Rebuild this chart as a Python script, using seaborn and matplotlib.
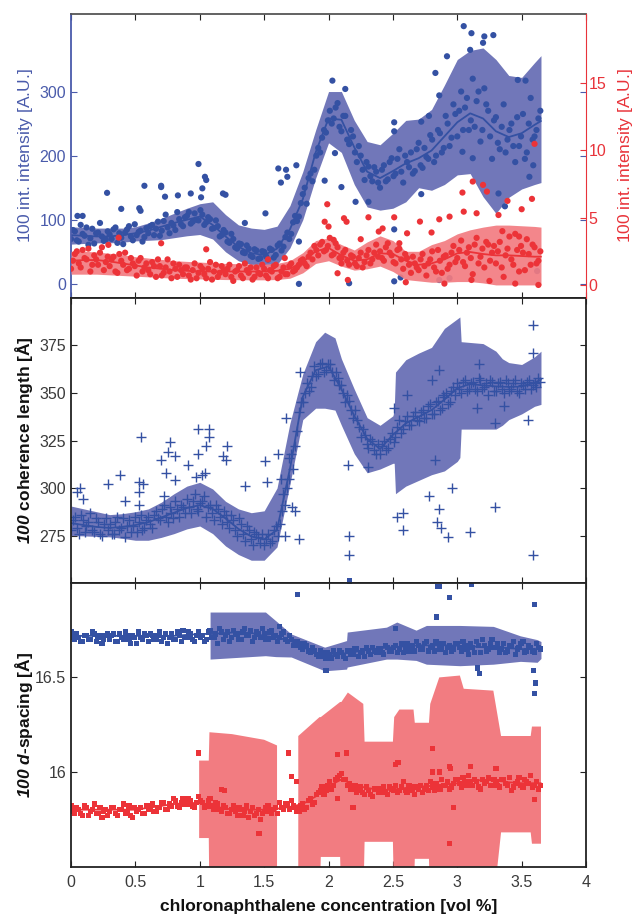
import numpy as np
import matplotlib
matplotlib.use('Agg')
import matplotlib.pyplot as plt
import seaborn as sns

# ---------------- data ----------------
# concentration grids of the dense series [vol %] (two interleaved scans)
conc = [0.00, 0.03, 0.06, 0.09, 0.12, 0.15, 0.18, 0.21, 0.24, 0.27,
        0.30, 0.33, 0.36, 0.39, 0.42, 0.45, 0.48, 0.51, 0.54, 0.57,
        0.60, 0.63, 0.66, 0.69, 0.72, 0.75, 0.78, 0.81, 0.84, 0.87,
        0.90, 0.93, 0.96, 0.99, 1.02, 1.05, 1.08, 1.11, 1.14, 1.17,
        1.20, 1.23, 1.26, 1.29, 1.32, 1.35, 1.38, 1.41, 1.44, 1.47,
        1.50, 1.53, 1.56, 1.59, 1.62, 1.65, 1.68, 1.71, 1.74, 1.77,
        1.80, 1.83, 1.86, 1.89, 1.92, 1.95, 1.98, 2.01, 2.04, 2.07,
        2.10, 2.13, 2.16, 2.19, 2.22, 2.25, 2.28, 2.31, 2.34, 2.37,
        2.40, 2.43, 2.46, 2.49, 2.52, 2.55, 2.58, 2.61, 2.64, 2.67,
        2.70, 2.73, 2.76, 2.79, 2.82, 2.85, 2.88, 2.91, 2.94, 2.97,
        3.00, 3.03, 3.06, 3.09, 3.12, 3.15, 3.18, 3.21, 3.24, 3.27,
        3.30, 3.33, 3.36, 3.39, 3.42, 3.45, 3.48, 3.51, 3.54, 3.57,
        3.60, 3.63]
conc_b = [0.015, 0.045, 0.075, 0.105, 0.135, 0.165, 0.195, 0.225, 0.255, 0.285,
          0.315, 0.345, 0.375, 0.405, 0.435, 0.465, 0.495, 0.525, 0.555, 0.585,
          0.615, 0.645, 0.675, 0.705, 0.735, 0.765, 0.795, 0.825, 0.855, 0.885,
          0.915, 0.945, 0.975, 1.005, 1.035, 1.065, 1.095, 1.125, 1.155, 1.185,
          1.215, 1.245, 1.275, 1.305, 1.335, 1.365, 1.395, 1.425, 1.455, 1.485,
          1.515, 1.545, 1.575, 1.605, 1.635, 1.665, 1.695, 1.725, 1.755, 1.785,
          1.815, 1.845, 1.875, 1.905, 1.935, 1.965, 1.995, 2.025, 2.055, 2.085,
          2.115, 2.145, 2.175, 2.205, 2.235, 2.265, 2.295, 2.325, 2.355, 2.385,
          2.415, 2.445, 2.475, 2.505, 2.535, 2.565, 2.595, 2.625, 2.655, 2.685,
          2.715, 2.745, 2.775, 2.805, 2.835, 2.865, 2.895, 2.925, 2.955, 2.985,
          3.015, 3.045, 3.075, 3.105, 3.135, 3.165, 3.195, 3.225, 3.255, 3.285,
          3.315, 3.345, 3.375, 3.405, 3.435, 3.465, 3.495, 3.525, 3.555, 3.585,
          3.615, 3.645]

# knots of the fitted curves / confidence bands
knots = [0.0, 0.1, 0.2, 0.3, 0.4, 0.5, 0.6, 0.7, 0.8, 0.9,
         1.0, 1.1, 1.2, 1.3, 1.4, 1.5, 1.6, 1.7, 1.8, 1.9,
         2.0, 2.1, 2.2, 2.3, 2.4, 2.5, 2.6, 2.7, 2.8, 2.9,
         3.0, 3.1, 3.2, 3.3, 3.4, 3.5, 3.6, 3.65]

# panel 1 - 100 intensity, blue (left axis)
int_blue = [70, 82, 66, 78, 88, 71, 63, 80, 74, 69,
            77, 85, 64, 72, 80, 90, 68, 76, 83, 73,
            79, 92, 86, 75, 98, 88, 95, 84, 101, 90,
            106, 94, 110, 99, 108, 96, 101, 87, 90, 76,
            80, 64, 70, 55, 62, 48, 55, 42, 52, 40,
            50, 38, 53, 45, 63, 58, 80, 78, 106, 105,
            140, 125, 172, 178, 212, 228, 236, 270, 258, 282,
            238, 262, 218, 230, 190, 200, 162, 183, 160, 175,
            150, 185, 163, 196, 172, 210, 158, 190, 205, 176,
            220, 181, 198, 232, 190, 240, 205, 262, 215, 280,
            230, 300, 275, 240, 320, 285, 222, 305, 270, 195,
            260, 210, 280, 225, 250, 190, 215, 265, 205, 290,
            230, 258]
int_blue_b = [84, 68, 92, 75, 61, 86, 79, 95, 67, 82,
              70, 88, 79, 62, 85, 74, 93, 81, 66, 87,
              90, 76, 97, 83, 108, 79, 91, 112, 93, 104,
              112, 97, 100, 115, 92, 104, 86, 99, 74, 84,
              66, 78, 57, 63, 49, 60, 44, 54, 39, 51,
              43, 55, 41, 60, 52, 73, 70, 96, 98, 126,
              150, 165, 160, 200, 205, 240, 255, 250, 275, 245,
              262, 225, 240, 205, 215, 178, 190, 168, 182, 158,
              178, 160, 190, 168, 195, 175, 200, 182, 172, 210,
              185, 212, 195, 225, 200, 235, 212, 250, 228, 265,
              270, 240, 290, 255, 245, 300, 240, 280, 230, 255,
              220, 245, 205, 240, 215, 260, 230, 195, 250, 225,
              240, 270]
int_blue_out_x = [0.05, 0.09, 0.28, 0.39, 0.53, 0.54, 0.57, 0.70, 0.70, 0.73, 0.83, 0.93,
                  0.99, 1.01, 1.02, 1.04, 1.05, 1.18, 1.20, 1.35, 1.51, 1.61, 1.63, 1.67,
                  1.68, 1.75, 1.77, 1.97, 2.03, 2.05, 2.10, 2.13, 2.21, 2.31, 2.51, 2.51,
                  2.72, 2.72, 2.78, 2.83, 2.86, 2.92, 3.04, 3.05, 3.10, 3.11, 3.12, 3.20,
                  3.21, 3.28, 3.32, 3.37, 3.47, 3.53, 3.56, 3.59, 1.77, 2.16, 2.51, 2.56,
                  2.86, 2.94, 2.51, 3.62]
int_blue_out_y = [106, 106, 142, 117, 118, 114, 153, 153, 151, 136, 138, 141,
                  187, 135, 149, 167, 162, 141, 139, 95, 110, 180, 158, 178,
                  167, 185, 66, 161, 317, 204, 151, 304, 128, 128, 252, 238,
                  253, 140, 262, 329, 294, 355, 206, 402, 365, 391, 196, 376,
                  386, 388, 141, 121, 318, 317, 167, 185, 0, 1, 4, 10,
                  6, 9, 85, 20]
int_blue_fit = [76, 75, 74, 74, 76, 79, 83, 89, 95, 100,
                105, 92, 74, 58, 48, 45, 55, 85, 132, 205,
                258, 256, 213, 175, 165, 176, 188, 196, 208, 230,
                252, 266, 258, 238, 229, 235, 248, 254]
int_blue_hi = [89, 88, 87, 87, 87, 89, 95, 102, 110, 118,
               125, 128, 108, 92, 87, 85, 90, 122, 175, 240,
               300, 300, 255, 222, 217, 235, 255, 257, 272, 310,
               350, 364, 368, 350, 325, 322, 345, 356]
int_blue_lo = [62, 63, 64, 64, 65, 67, 68, 69, 72, 75,
               77, 70, 50, 36, 30, 26, 30, 56, 100, 165,
               220, 205, 155, 120, 115, 118, 128, 150, 146, 155,
               170, 172, 136, 110, 135, 148, 155, 158]

# panel 1 - 100 intensity, red (right axis)
int_red = [1.2, 2.3, 1.6, 2.6, 1.9, 1.0, 2.2, 1.5, 2.8, 1.7,
           1.4, 2.1, 0.9, 1.8, 2.4, 1.2, 1.6, 0.7, 2.0, 1.3,
           1.1, 1.7, 0.6, 1.4, 0.9, 1.9, 0.5, 1.2, 1.5, 0.8,
           1.3, 0.4, 1.6, 0.9, 1.2, 0.5, 1.7, 1.0, 0.6, 1.4,
           0.8, 1.5, 0.3, 1.1, 0.7, 1.6, 0.9, 0.4, 1.3, 0.8,
           1.2, 0.5, 1.0, 1.5, 0.6, 1.3, 0.8, 1.6, 1.1, 1.5,
           1.9, 1.4, 2.4, 2.9, 2.2, 3.2, 2.6, 3.5, 2.3, 2.8,
           2.0, 2.6, 1.5, 2.1, 1.4, 2.4, 1.7, 2.6, 1.9, 3.0,
           2.5, 1.8, 3.1, 2.2, 1.6, 2.7, 1.2, 2.0, 0.9, 1.6,
           1.1, 2.3, 0.7, 1.9, 1.3, 2.6, 0.9, 2.2, 1.5, 2.9,
           2.0, 3.3, 1.4, 2.8, 0.8, 3.5, 2.1, 1.3, 3.0, 2.4,
           1.6, 3.2, 0.6, 2.7, 1.9, 3.8, 1.0, 2.4, 3.4, 1.5,
           2.8, 1.8]
int_red_b = [1.8, 2.5, 1.3, 2.0, 2.7, 1.5, 1.9, 2.4, 1.1, 2.1,
             1.9, 1.0, 2.3, 1.5, 1.1, 2.0, 1.4, 1.8, 1.0, 1.6,
             0.8, 1.4, 1.9, 0.7, 1.3, 1.0, 1.6, 0.6, 1.1, 1.3,
             0.7, 1.1, 0.5, 1.4, 0.8, 1.2, 0.4, 1.5, 0.9, 1.1,
             1.2, 0.6, 1.0, 1.4, 0.5, 1.1, 1.3, 0.6, 0.9, 1.5,
             0.7, 1.1, 1.4, 0.5, 1.0, 0.8, 1.4, 1.0, 1.3, 1.8,
             1.6, 2.1, 1.9, 2.6, 3.0, 2.5, 2.9, 2.2, 3.1, 2.0,
             2.4, 1.8, 2.2, 1.6, 2.0, 1.3, 2.2, 1.6, 2.4, 2.1,
             2.0, 2.8, 2.4, 1.7, 2.6, 1.9, 2.3, 1.5, 2.1, 1.3,
             1.9, 1.4, 1.6, 2.5, 1.0, 1.8, 2.1, 1.2, 2.4, 1.7,
             2.6, 1.7, 2.4, 2.0, 3.0, 1.6, 2.7, 3.2, 1.8, 2.9,
             2.5, 1.3, 2.2, 3.6, 1.5, 2.6, 2.9, 1.1, 2.3, 3.0,
             1.6, 2.5]
int_red_out_x = [0.29, 0.37, 0.70, 1.05, 1.53, 1.66, 1.97, 1.99, 2.00, 2.04, 2.07, 2.10,
                 2.12, 2.14, 2.15, 2.31, 2.39, 2.42, 2.51, 2.61, 2.71, 2.86, 2.94, 3.04,
                 3.05, 3.11, 3.12, 3.15, 3.20, 3.23, 3.32, 3.39, 3.50, 3.58, 3.60, 2.60,
                 2.90, 3.25, 3.45, 3.63, 2.80, 3.35, 3.48, 2.25, 2.55]
int_red_out_y = [2.98, 3.52, 3.1, 2.65, 1.9, 2.0, 4.7, 6.0, 4.34, 3.35, 0.87, 1.6,
                 4.96, 4.7, 0.37, 5.03, 3.97, 4.2, 5.03, 3.84, 4.71, 4.88, 5.08, 6.87,
                 5.45, 0.37, 7.69, 5.33, 7.44, 6.94, 5.2, 6.25, 5.63, 6.4, 10.49, 0.2,
                 0.1, 0.3, 0.1, 0.0, 3.9, 4.0, 3.6, 3.4, 3.1]
int_red_fit = [1.8, 1.85, 1.85, 1.75, 1.6, 1.45, 1.3, 1.2, 1.1, 1.05,
               1.0, 1.0, 1.0, 1.0, 1.0, 1.0, 1.05, 1.2, 1.7, 2.5,
               2.75, 2.2, 1.8, 1.9, 2.35, 2.3, 1.8, 1.5, 1.6, 1.9,
               2.35, 2.45, 2.3, 2.2, 2.2, 2.15, 2.1, 2.1]
int_red_hi = [2.5, 2.5, 2.45, 2.35, 2.25, 2.1, 2.0, 1.9, 1.8, 1.75,
              1.7, 1.65, 1.6, 1.58, 1.55, 1.55, 1.6, 1.8, 2.4, 3.3,
              3.5, 3.0, 2.6, 3.2, 3.65, 3.3, 2.5, 2.5, 3.0, 3.3,
              3.8, 4.1, 4.3, 4.45, 4.45, 4.4, 4.35, 4.3]
int_red_lo = [0.8, 0.8, 0.8, 0.75, 0.7, 0.65, 0.6, 0.55, 0.5, 0.47,
              0.45, 0.42, 0.4, 0.39, 0.38, 0.38, 0.4, 0.5, 0.9, 1.6,
              1.8, 1.4, 1.1, 1.2, 1.4, 1.0, 0.4, 0.3, 0.2, 0.2,
              0.25, 0.25, 0.15, 0.0, 0.0, 0.0, 0.0, 0.0]

# panel 2 - 100 coherence length [A]
coh = [278, 285, 276, 283, 280, 287, 277, 282, 275, 284,
       281, 276, 285, 279, 274, 283, 280, 277, 286, 279,
       285, 279, 288, 283, 291, 282, 287, 293, 285, 290,
       294, 287, 297, 288, 293, 285, 291, 283, 289, 281,
       286, 279, 283, 275, 281, 272, 278, 270, 276, 271,
       270, 276, 272, 280, 281, 297, 300, 318, 322, 340,
       345, 355, 353, 364, 360, 366, 362, 365, 357, 358,
       354, 345, 346, 337, 336, 327, 328, 321, 325, 318,
       318, 325, 321, 329, 327, 336, 331, 338, 333, 340,
       335, 341, 337, 344, 339, 346, 342, 350, 345, 353,
       355, 350, 357, 352, 356, 351, 357, 353, 349, 356,
       351, 356, 350, 355, 352, 357, 350, 354, 356, 352,
       355, 358]
coh_b = [283, 279, 286, 277, 282, 278, 284, 276, 281, 278,
         276, 282, 278, 284, 280, 277, 285, 282, 278, 283,
         281, 286, 284, 289, 285, 290, 284, 289, 291, 287,
         290, 293, 289, 292, 296, 290, 287, 291, 285, 288,
         282, 286, 278, 284, 276, 280, 273, 277, 274, 276,
         273, 271, 278, 275, 288, 291, 305, 310, 330, 345,
         350, 351, 359, 359, 365, 361, 365, 361, 361, 354,
         350, 349, 341, 341, 332, 331, 323, 326, 320, 323,
         322, 320, 326, 324, 332, 329, 335, 333, 338, 336,
         340, 337, 343, 339, 345, 341, 348, 344, 351, 349,
         352, 356, 351, 355, 352, 358, 352, 355, 357, 351,
         355, 352, 357, 351, 355, 351, 355, 352, 357, 354,
         353, 356]
coh_out_x = [0.05, 0.07, 0.09, 0.29, 0.38, 0.42, 0.53, 0.54, 0.53, 0.56, 0.53, 0.70,
             0.72, 0.74, 0.75, 0.77, 0.81, 0.81, 0.91, 0.97, 0.99, 0.99, 1.04, 1.02,
             1.05, 1.07, 1.07, 1.18, 1.20, 1.21, 1.35, 1.51, 1.52, 1.61, 1.63, 1.66,
             1.67, 1.69, 1.72, 1.74, 1.77, 1.78, 2.15, 2.16, 2.16, 2.31, 2.51, 2.53,
             2.58, 2.58, 2.61, 2.78, 2.80, 2.83, 2.84, 2.86, 2.86, 2.87, 2.89, 2.93,
             2.96, 3.10, 3.15, 3.17, 3.29, 3.29, 3.36, 3.55, 3.59, 3.59, 3.59]
coh_out_y = [298, 300, 294, 302, 307, 293, 303, 327, 298, 302, 291, 315,
             296, 308, 319, 324, 317, 304, 312, 306, 331, 318, 308, 307,
             322, 331, 327, 317, 315, 322, 301, 314, 303, 318, 305, 275,
             337, 316, 290, 288, 273, 361, 312, 275, 265, 311, 342, 285,
             287, 278, 349, 296, 357, 315, 282, 289, 362, 279, 349, 274,
             300, 277, 342, 365, 290, 334, 343, 336, 386, 371, 265]
coh_fit = [281.5, 280.5, 279.5, 279, 279.5, 280.5, 282, 284.5, 287, 289.5,
           291, 289, 284, 278.5, 274.5, 273, 278, 310, 348, 362,
           364, 352, 338, 326, 320.5, 328, 334, 337.5, 341, 346.5,
           352.5, 354.7, 354, 353.5, 353.2, 353.4, 355.5, 357]
coh_band_x = [0.0, 0.1, 0.2, 0.3, 0.4, 0.5, 0.6, 0.7, 0.8, 0.9,
              1.0, 1.1, 1.2, 1.3, 1.4, 1.5, 1.6, 1.7, 1.8, 1.9,
              1.97, 2.05, 2.1, 2.2, 2.3, 2.4, 2.5, 2.51, 2.52, 2.6,
              2.7, 2.8, 2.9, 3.0, 3.02, 3.03, 3.2, 3.3, 3.35, 3.4,
              3.5, 3.6, 3.65]
coh_hi = [290.5, 289, 287.5, 286, 286.5, 287.5, 289, 292.5, 297, 301,
          303, 299.5, 293, 289, 287, 288, 300, 334, 360, 377,
          382, 379, 368, 352, 337, 333, 338, 341, 361, 367.5,
          371, 374, 384, 389, 390, 377, 376, 372, 368, 366,
          365, 369, 372]
coh_lo = [275, 274.8, 274.5, 274.3, 273.5, 272.5, 272.5, 274, 276, 278.5,
          280, 276, 269.5, 265, 262, 262, 269, 302, 336, 342,
          342, 341, 333, 318, 308, 310, 313, 313, 297, 301,
          304, 307, 309, 314, 316, 331, 331, 331, 333, 336,
          339, 343, 344]

# panel 3 - 100 d-spacing [A], blue and red
d_blue = [16.74, 16.70, 16.71, 16.69, 16.72, 16.70, 16.73, 16.71, 16.68, 16.72,
          16.70, 16.73, 16.69, 16.71, 16.74, 16.70, 16.72, 16.68, 16.71, 16.73,
          16.69, 16.72, 16.70, 16.74, 16.71, 16.68, 16.73, 16.70, 16.72, 16.75,
          16.71, 16.73, 16.69, 16.74, 16.72, 16.70, 16.75, 16.71, 16.68, 16.74,
          16.72, 16.69, 16.75, 16.73, 16.70, 16.76, 16.72, 16.69, 16.74, 16.71,
          16.73, 16.70, 16.75, 16.72, 16.71, 16.74, 16.69, 16.70, 16.67, 16.68,
          16.65, 16.67, 16.63, 16.64, 16.61, 16.63, 16.60, 16.62, 16.64, 16.61,
          16.63, 16.60, 16.64, 16.62, 16.65, 16.63, 16.61, 16.64, 16.66, 16.63,
          16.65, 16.62, 16.66, 16.64, 16.67, 16.65, 16.63, 16.68, 16.66, 16.64,
          16.67, 16.65, 16.69, 16.66, 16.64, 16.68, 16.66, 16.63, 16.67, 16.65,
          16.68, 16.64, 16.67, 16.62, 16.66, 16.69, 16.63, 16.67, 16.65, 16.70,
          16.66, 16.63, 16.68, 16.64, 16.67, 16.62, 16.66, 16.69, 16.64, 16.66,
          16.63, 16.66]
d_blue_b = [16.71, 16.73, 16.69, 16.72, 16.70, 16.74, 16.69, 16.72, 16.70, 16.73,
            16.72, 16.69, 16.73, 16.70, 16.72, 16.68, 16.71, 16.74, 16.70, 16.72,
            16.73, 16.70, 16.72, 16.69, 16.73, 16.71, 16.70, 16.74, 16.69, 16.71,
            16.74, 16.70, 16.72, 16.71, 16.69, 16.74, 16.71, 16.73, 16.76, 16.70,
            16.74, 16.71, 16.73, 16.70, 16.74, 16.72, 16.75, 16.71, 16.73, 16.76,
            16.70, 16.74, 16.71, 16.69, 16.73, 16.70, 16.72, 16.67, 16.69, 16.66,
            16.68, 16.64, 16.66, 16.62, 16.64, 16.61, 16.63, 16.60, 16.62, 16.64,
            16.61, 16.64, 16.62, 16.65, 16.61, 16.64, 16.66, 16.62, 16.64, 16.65,
            16.63, 16.67, 16.64, 16.66, 16.63, 16.68, 16.66, 16.64, 16.67, 16.69,
            16.65, 16.68, 16.64, 16.67, 16.69, 16.65, 16.68, 16.66, 16.64, 16.68,
            16.66, 16.69, 16.65, 16.68, 16.63, 16.67, 16.70, 16.64, 16.68, 16.66,
            16.68, 16.65, 16.63, 16.67, 16.69, 16.65, 16.68, 16.63, 16.67, 16.64,
            16.68, 16.65]
d_blue_out_x = [1.76, 1.98, 2.16, 2.84, 2.85, 2.86, 2.94, 3.11, 3.16, 3.17,
                3.59, 3.60, 3.60, 3.61, 2.52, 1.62]
d_blue_out_y = [16.94, 16.535, 17.01, 16.82, 16.98, 16.98, 16.925, 16.99, 16.55, 16.52,
                16.535, 16.885, 16.415, 16.47, 16.76, 16.77]
d_blue_fit = [16.72, 16.72, 16.72, 16.72, 16.72, 16.72, 16.72, 16.72, 16.72, 16.725,
              16.73, 16.73, 16.735, 16.74, 16.735, 16.72, 16.71, 16.695, 16.66, 16.63,
              16.615, 16.625, 16.635, 16.645, 16.655, 16.66, 16.665, 16.67, 16.67, 16.67,
              16.668, 16.665, 16.66, 16.66, 16.655, 16.65, 16.65, 16.65]
d_blue_band_x = [1.08, 1.51, 1.59, 1.71, 1.97, 2.14, 2.145, 2.45, 2.53, 2.68,
                 2.76, 3.02, 3.28, 3.49, 3.62, 3.65]
d_blue_hi = [16.846, 16.846, 16.80, 16.73, 16.66, 16.695, 16.74, 16.766, 16.793, 16.75,
             16.775, 16.775, 16.77, 16.72, 16.70, 16.69]
d_blue_lo = [16.597, 16.615, 16.61, 16.608, 16.535, 16.544, 16.555, 16.597, 16.597, 16.59,
             16.57, 16.562, 16.57, 16.585, 16.58, 16.60]

d_red = [15.82, 15.78, 15.80, 15.77, 15.81, 15.79, 15.83, 15.78, 15.76, 15.80,
         15.79, 15.81, 15.77, 15.80, 15.78, 15.82, 15.76, 15.79, 15.81, 15.78,
         15.80, 15.83, 15.79, 15.81, 15.84, 15.80, 15.82, 15.85, 15.81, 15.86,
         15.83, 15.85, 15.81, 15.87, 15.84, 15.82, 15.86, 15.80, 15.83, 15.79,
         15.81, 15.78, 15.82, 15.77, 15.80, 15.79, 15.76, 15.81, 15.78, 15.75,
         15.79, 15.82, 15.78, 15.81, 15.84, 15.80, 15.83, 15.85, 15.81, 15.79,
         15.83, 15.81, 15.86, 15.84, 15.89, 15.92, 15.90, 15.95, 15.93, 15.97,
         15.99, 15.96, 15.94, 15.91, 15.89, 15.92, 15.88, 15.90, 15.87, 15.91,
         15.89, 15.92, 15.88, 15.91, 15.93, 15.90, 15.95, 15.89, 15.92, 15.88,
         15.91, 15.89, 15.93, 15.95, 15.90, 15.92, 15.96, 15.93, 15.91, 15.94,
         15.96, 15.92, 15.95, 15.98, 15.93, 15.95, 15.91, 15.94, 15.97, 15.93,
         15.95, 15.92, 15.96, 15.93, 15.90, 15.94, 15.97, 15.92, 15.95, 15.98,
         15.93, 15.91]
d_red_b = [15.79, 15.81, 15.78, 15.82, 15.77, 15.80, 15.78, 15.81, 15.79, 15.77,
           15.81, 15.78, 15.80, 15.83, 15.79, 15.77, 15.81, 15.80, 15.78, 15.82,
           15.82, 15.79, 15.81, 15.84, 15.80, 15.83, 15.86, 15.82, 15.84, 15.83,
           15.86, 15.82, 15.84, 15.85, 15.81, 15.85, 15.82, 15.84, 15.80, 15.82,
           15.78, 15.80, 15.79, 15.81, 15.77, 15.82, 15.79, 15.77, 15.80, 15.78,
           15.81, 15.79, 15.80, 15.78, 15.81, 15.83, 15.80, 15.82, 15.79, 15.82,
           15.80, 15.85, 15.83, 15.88, 15.90, 15.88, 15.93, 15.91, 15.96, 15.98,
           15.96, 15.93, 15.91, 15.93, 15.90, 15.89, 15.92, 15.88, 15.91, 15.89,
           15.91, 15.89, 15.92, 15.90, 15.89, 15.92, 15.90, 15.93, 15.90, 15.92,
           15.93, 15.91, 15.90, 15.92, 15.94, 15.91, 15.93, 15.95, 15.92, 15.96,
           15.94, 15.97, 15.93, 15.95, 15.96, 15.92, 15.96, 15.95, 15.93, 15.96,
           15.93, 15.96, 15.94, 15.97, 15.92, 15.95, 15.93, 15.96, 15.94, 15.92,
           15.95, 15.93]
d_red_out_x = [0.99, 1.17, 1.19, 1.46, 1.69, 1.71, 1.75, 2.07, 2.14, 2.07, 2.19, 2.54,
               2.52, 2.81, 2.81, 2.86, 2.94, 2.95, 2.97, 2.94, 3.10, 3.30, 3.60]
d_red_out_y = [16.10, 15.905, 15.90, 15.675, 16.10, 15.977, 15.95, 16.09, 16.10, 15.86, 15.81, 16.05,
               16.04, 16.124, 16.0, 16.0, 16.03, 16.02, 15.81, 15.62, 16.03, 16.02, 15.853]
d_red_fit = [15.80, 15.80, 15.80, 15.80, 15.80, 15.80, 15.81, 15.82, 15.83, 15.835,
             15.835, 15.82, 15.805, 15.80, 15.80, 15.80, 15.805, 15.815, 15.83, 15.87,
             15.925, 15.96, 15.93, 15.915, 15.905, 15.906, 15.915, 15.922, 15.926, 15.932,
             15.94, 15.95, 15.958, 15.955, 15.945, 15.94, 15.94, 15.94]
d_red_band_x = [0.995, 1.07, 1.075, 1.25, 1.50, 1.60, 1.68, 1.765, 1.93, 1.94,
                2.09, 2.10, 2.15, 2.27, 2.28, 2.50, 2.51, 2.55, 2.66, 2.67,
                2.78, 2.79, 2.86, 3.02, 3.05, 3.28, 3.34, 3.57, 3.58, 3.65]
d_red_hi = [16.06, 16.06, 16.21, 16.20, 16.17, 16.14, np.nan, 16.19, 16.29, 16.29,
            16.37, 16.37, 16.42, 16.36, 16.16, 16.16, 16.29, 16.33, 16.33, 16.26,
            16.26, 16.36, 16.50, 16.51, 16.44, 16.43, 16.19, 16.19, 16.24, 16.24]
d_red_lo = [15.65, 15.65, 15.30, 15.30, 15.30, 15.30, np.nan, 15.30, 15.30, 15.55,
            15.55, 15.30, 15.30, 15.30, 15.63, 15.63, 15.30, 15.30, 15.30, 15.54,
            15.54, 15.30, 15.30, 15.30, 15.30, 15.30, 15.68, 15.68, 15.62, 15.62]

# ticks
xtick_vals = [0, 0.5, 1, 1.5, 2, 2.5, 3, 3.5, 4]
xtick_labels = ['0', '0.5', '1', '1.5', '2', '2.5', '3', '3.5', '4']
int_left_ticks = [0, 100, 200, 300]
int_right_ticks = [0, 5, 10, 15]
coh_ticks = [275, 300, 325, 350, 375]
d_ticks = [16, 16.5]
d_tick_labels = ['16', '16.5']

# ---------------- style ----------------
sns.set_style('ticks')
plt.rcParams['font.family'] = ['Liberation Sans', 'DejaVu Sans']
plt.rcParams.update({
    'mathtext.fontset': 'custom',
    'mathtext.rm': 'Liberation Sans',
    'mathtext.it': 'Liberation Sans:italic',
    'mathtext.bf': 'Liberation Sans:bold',
    'mathtext.bfit': 'Liberation Sans:italic:bold',
})

DOT_B = '#3451a3'
BAND_B = '#7177b9'
DOT_R = '#ec3338'
BAND_R = '#f27c81'
LAB_B = '#4a5bab'
LAB_R = '#e8333a'
TXT = '#3a3a3a'

all_x = conc + conc_b

fig = plt.figure(figsize=(6.37, 9.18), dpi=100)
ax1 = fig.add_axes([0.1115, 0.6754, 0.8085, 0.3094])
ax2 = fig.add_axes([0.1115, 0.3649, 0.8085, 0.3105])
ax3 = fig.add_axes([0.1115, 0.0556, 0.8085, 0.3094])
ax1r = ax1.twinx()

# ---- panel 1: intensity ----
ax1.fill_between(knots, int_blue_lo, int_blue_hi, color=BAND_B, lw=0)
sns.lineplot(x=knots, y=int_blue_fit, ax=ax1, color=DOT_B, lw=1.3)
sns.scatterplot(x=all_x, y=int_blue + int_blue_b, ax=ax1, color=DOT_B, s=20, edgecolor='none')
sns.scatterplot(x=int_blue_out_x, y=int_blue_out_y, ax=ax1, color=DOT_B, s=20, edgecolor='none')

ax1r.fill_between(knots, int_red_lo, int_red_hi, color=BAND_R, lw=0, alpha=0.92)
sns.lineplot(x=knots, y=int_red_fit, ax=ax1r, color=DOT_R, lw=1.3)
sns.scatterplot(x=all_x, y=int_red + int_red_b, ax=ax1r, color=DOT_R, s=20, edgecolor='none')
sns.scatterplot(x=int_red_out_x, y=int_red_out_y, ax=ax1r, color=DOT_R, s=20, edgecolor='none')

ax1.set_ylim(-22, 421)
ax1r.set_ylim(-0.97, 20.15)
ax1.set_yticks(int_left_ticks)
ax1r.set_yticks(int_right_ticks)
ax1.tick_params(axis='y', direction='in', length=4, colors=LAB_B, right=True, labelsize=11.5)
ax1r.tick_params(axis='y', direction='in', length=4, colors=LAB_R, labelsize=11.5, pad=2)
ax1.spines['left'].set_color(LAB_B)
ax1.spines['right'].set_visible(False)
ax1.spines['top'].set_color('#555555')
for side in ['left', 'top', 'bottom']:
    ax1r.spines[side].set_visible(False)
ax1r.spines['right'].set_color(LAB_R)
ax1.set_ylabel(r'$\mathit{100}$ int. intensity [A.U.]', color=LAB_B, fontsize=12.5)
ax1.yaxis.set_label_coords(-0.070, 0.5)
ax1r.set_ylabel(r'$\mathit{100}$ int. intensity [A.U.]', color=LAB_R, fontsize=12.5)
ax1r.yaxis.set_label_coords(1.058, 0.5)

# ---- panel 2: coherence length ----
ax2.fill_between(coh_band_x, coh_lo, coh_hi, color=BAND_B, lw=0)
sns.lineplot(x=knots, y=coh_fit, ax=ax2, color=DOT_B, lw=1.3)
sns.scatterplot(x=all_x, y=coh + coh_b, ax=ax2, color=DOT_B, marker='+', s=45, linewidth=1.0)
sns.scatterplot(x=coh_out_x, y=coh_out_y, ax=ax2, color=DOT_B, marker='+', s=45, linewidth=1.0)
ax2.set_ylim(250, 400)
ax2.set_yticks(coh_ticks)
ax2.set_ylabel(r'$\mathbfit{100}$ coherence length [Å]', fontsize=12.5, fontweight='bold', color='#111111')
ax2.yaxis.set_label_coords(-0.070, 0.5)

# ---- panel 3: d-spacing ----
ax3.fill_between(d_red_band_x, d_red_lo, d_red_hi, color=BAND_R, lw=0)
ax3.fill_between(d_blue_band_x, d_blue_lo, d_blue_hi, color=BAND_B, lw=0)
sns.lineplot(x=knots, y=d_blue_fit, ax=ax3, color=DOT_B, lw=1.3)
sns.lineplot(x=knots, y=d_red_fit, ax=ax3, color=DOT_R, lw=1.3)
sns.scatterplot(x=all_x, y=d_blue + d_blue_b, ax=ax3, color=DOT_B, marker='s', s=14, edgecolor='none')
sns.scatterplot(x=all_x, y=d_red + d_red_b, ax=ax3, color=DOT_R, marker='s', s=14, edgecolor='none')
sns.scatterplot(x=d_blue_out_x, y=d_blue_out_y, ax=ax3, color=DOT_B, marker='s', s=14,
                edgecolor='none', clip_on=False)
sns.scatterplot(x=d_red_out_x, y=d_red_out_y, ax=ax3, color=DOT_R, marker='s', s=14, edgecolor='none')
ax3.set_ylim(15.497, 17.0)
ax3.set_yticks(d_ticks)
ax3.set_yticklabels(d_tick_labels)
ax3.set_ylabel(r'$\mathbfit{100}$ $\mathbfit{d}$-spacing [Å]', fontsize=12.5, fontweight='bold', color='#111111')
ax3.yaxis.set_label_coords(-0.070, 0.5)
ax3.set_xlabel('chloronaphthalene concentration [vol %]', fontsize=12.5, fontweight='bold', color='#111111')
ax3.xaxis.set_label_coords(0.5, -0.112)

# common box / ticks
for ax in (ax1, ax2, ax3):
    ax.set_xlim(0, 4)
    ax.set_xticks(xtick_vals)
    ax.tick_params(axis='x', direction='in', top=True, bottom=True, length=4,
                   color='#222222', labelcolor=TXT, labelsize=11.5, pad=6)
    for sp in ax.spines.values():
        sp.set_linewidth(1.3)
for ax in (ax2, ax3):
    ax.tick_params(axis='y', direction='in', left=True, right=True, length=4,
                   color='#222222', labelcolor=TXT, labelsize=11.5)
    for sp in ax.spines.values():
        sp.set_color('#222222')
ax1.tick_params(axis='x', labelbottom=False)
ax2.tick_params(axis='x', labelbottom=False)
ax3.set_xticklabels(xtick_labels)
ax1.set_xlabel('')
ax2.set_xlabel('')

fig.savefig('out.png', dpi=100)
